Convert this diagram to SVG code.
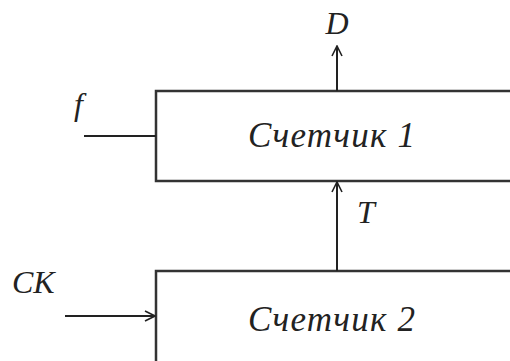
<svg xmlns="http://www.w3.org/2000/svg" width="510" height="361" viewBox="0 0 510 361">
<style>
.box{fill:#fff;stroke:#333;stroke-width:2.5}
.ln{fill:none;stroke:#222;stroke-width:2}
.t{font-family:"Liberation Serif","Times New Roman",serif;font-style:italic;fill:#222;font-size:32px}
.m{font-size:35px}
</style>
<defs>
<marker id="ah" viewBox="0 0 12 12" refX="11" refY="6" markerWidth="12" markerHeight="12" markerUnits="userSpaceOnUse" orient="auto">
<path d="M1,1 L11,6 L1,11" fill="none" stroke="#222" stroke-width="1.6"/>
</marker>
</defs>
<rect width="510" height="361" fill="#fff"/>
<g id="counter1">
<rect class="box" x="156" y="91" width="370" height="90"/>
<text class="t m" x="248" y="147" textLength="167" lengthAdjust="spacing">Счетчик 1</text>
</g>
<g id="counter2">
<rect class="box" x="156" y="271" width="370" height="110"/>
<text class="t m" x="248" y="331" textLength="167" lengthAdjust="spacing">Счетчик 2</text>
</g>
<g id="connectors">
<line class="ln" x1="337" y1="91" x2="337" y2="46" marker-end="url(#ah)"/>
<line class="ln" x1="337" y1="271" x2="337" y2="182" marker-end="url(#ah)"/>
<line class="ln" x1="84" y1="136" x2="156" y2="136"/>
<line class="ln" x1="65" y1="316" x2="155" y2="316" marker-end="url(#ah)"/>
</g>
<g id="labels">
<text class="t" x="337" y="34" text-anchor="middle">D</text>
<text class="t" x="74" y="115">f</text>
<text class="t" x="357" y="223">T</text>
<text class="t" x="12" y="293">CK</text>
</g>
</svg>
